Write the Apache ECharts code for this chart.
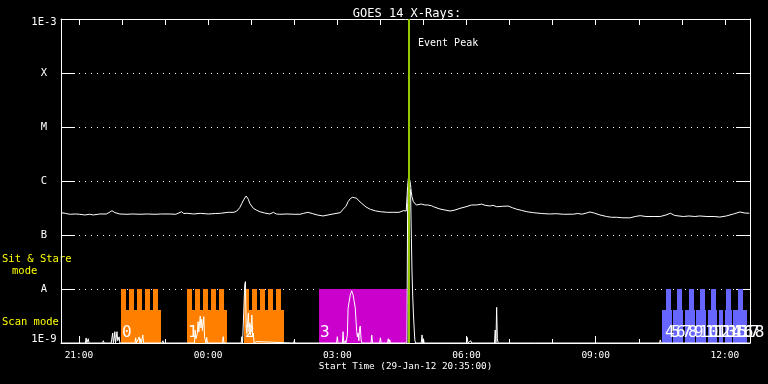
<!DOCTYPE html>
<html><head><meta charset="utf-8">
<script src="https://cdn.jsdelivr.net/npm/echarts@6/dist/echarts.min.js"></script>
<style>html,body{margin:0;padding:0;background:#000;}#c{width:768px;height:384px;}</style>
</head><body><div id="c"></div>
<script>
// ---------------- data ----------------
const titleText = 'GOES 14 X-Rays:';
const xAxisTitle = 'Start Time (29-Jan-12 20:35:00)';
const startTime = '20:35';
const endTime = '12:35';
const majorTickTimes = ['21:00','00:00','03:00','06:00','09:00','12:00'];
const hourTickTimes = ['21:00','22:00','23:00','00:00','01:00','02:00','03:00','04:00','05:00','06:00','07:00','08:00','09:00','10:00','11:00','12:00'];
const yMin = 1e-9, yMax = 1e-3;
const yTickLabels = ['1E-9','A','B','C','M','X','1E-3'];
const modeLabels = ['Sit & Stare', 'mode', 'Scan mode'];

// GOES long channel (1-8 A), W/m^2
const longSeries = [
 ['20:35',2.59e-7],['20:41',2.52e-7],['20:45',2.45e-7],['20:48',2.42e-7],['20:55',2.45e-7],['21:01',2.42e-7],
 ['21:08',2.35e-7],['21:15',2.42e-7],['21:20',2.35e-7],['21:29',2.45e-7],['21:38',2.45e-7],['21:42',2.6e-7],
 ['21:46',2.82e-7],['21:50',2.6e-7],['21:57',2.45e-7],['22:07',2.42e-7],['22:15',2.45e-7],['22:25',2.42e-7],
 ['22:35',2.45e-7],['22:46',2.42e-7],['22:55',2.45e-7],['23:07',2.45e-7],['23:15',2.42e-7],['23:23',2.70e-7],
 ['23:26',2.5e-7],['23:31',2.52e-7],['23:40',2.45e-7],['23:49',2.52e-7],['00:00',2.45e-7],['00:10',2.5e-7],
 ['00:17',2.52e-7],['00:28',2.63e-7],['00:36',2.63e-7],['00:40',2.78e-7],['00:44',3.2e-7],['00:47',3.86e-7],
 ['00:50',4.6e-7],['00:53',5.27e-7],['00:56',4.6e-7],['00:58',3.86e-7],['01:03',3.12e-7],['01:07',2.9e-7],
 ['01:12',2.70e-7],['01:19',2.55e-7],['01:26',2.45e-7],['01:31',2.63e-7],['01:35',2.45e-7],['01:40',2.42e-7],
 ['01:50',2.45e-7],['02:00',2.42e-7],['02:08',2.42e-7],['02:13',2.52e-7],['02:19',2.63e-7],['02:25',2.5e-7],
 ['02:32',2.35e-7],['02:40',2.25e-7],['02:47',2.35e-7],['02:54',2.45e-7],['03:04',2.59e-7],['03:08',2.99e-7],
 ['03:12',3.4e-7],['03:15',4.14e-7],['03:18',4.7e-7],['03:21',4.99e-7],['03:24',4.9e-7],['03:27',4.78e-7],
 ['03:30',4.3e-7],['03:34',3.86e-7],['03:40',3.3e-7],['03:46',2.99e-7],['03:53',2.8e-7],['04:00',2.70e-7],
 ['04:10',2.63e-7],['04:18',2.63e-7],['04:26',2.63e-7],['04:32',2.82e-7],['04:36',2.78e-7],['04:37',2.78e-7],
 ['04:38',8.0e-7],['04:39',1.137e-6],['04:40',1.12e-6],['04:41',1.04e-6],['04:42',8.5e-7],['04:43',6.3e-7],
 ['04:44',5.12e-7],['04:46',4.14e-7],['04:50',3.59e-7],['04:57',3.75e-7],['05:02',3.59e-7],['05:06',3.6e-7],
 ['05:11',3.49e-7],['05:14',3.34e-7],['05:23',3.03e-7],['05:30',2.9e-7],['05:37',2.78e-7],['05:44',2.9e-7],
 ['05:51',3.12e-7],['05:58',3.3e-7],['06:07',3.59e-7],['06:14',3.6e-7],['06:21',3.73e-7],['06:26',3.55e-7],
 ['06:33',3.44e-7],['06:37',3.55e-7],['06:42',3.34e-7],['06:50',3.4e-7],['06:58',3.44e-7],['07:04',3.2e-7],
 ['07:10',3.0e-7],['07:17',2.85e-7],['07:24',2.7e-7],['07:33',2.59e-7],['07:45',2.5e-7],['07:56',2.45e-7],
 ['08:05',2.48e-7],['08:15',2.42e-7],['08:29',2.43e-7],['08:35',2.5e-7],['08:41',2.43e-7],['08:47',2.55e-7],
 ['08:52',2.67e-7],['08:58',2.55e-7],['09:06',2.35e-7],['09:15',2.2e-7],['09:22',2.13e-7],['09:29',2.13e-7],
 ['09:38',2.08e-7],['09:48',2.08e-7],['09:55',2.2e-7],['10:02',2.28e-7],['10:10',2.2e-7],['10:20',2.2e-7],
 ['10:30',2.2e-7],['10:38',2.35e-7],['10:44',2.53e-7],['10:50',2.3e-7],['11:02',2.2e-7],['11:10',2.25e-7],
 ['11:18',2.2e-7],['11:25',2.25e-7],['11:35',2.2e-7],['11:45',2.2e-7],['11:53',2.15e-7],['12:02',2.25e-7],
 ['12:12',2.45e-7],['12:21',2.67e-7],['12:28',2.55e-7],['12:34',2.53e-7]
];

// GOES short channel (0.5-4 A), floored at the axis minimum
const shortSeries = [
 ['20:35',1e-9],['21:09',1e-9],['21:10',1.24e-9],['21:11',1e-9],['21:12',1e-9],['21:13',1.2e-9],['21:14',1e-9],
 ['21:33',1e-9],['21:34',1.1e-9],['21:35',1e-9],['21:45',1e-9],['21:47',1.53e-9],['21:48',1e-9],['21:49',1.2e-9],
 ['21:50',1.62e-9],['21:51',1e-9],['21:53',1.62e-9],['21:54',1.1e-9],['21:56',1.3e-9],['21:57',1e-9],
 ['22:18',1e-9],['22:19',1.25e-9],['22:20',1e-9],['22:24',1.3e-9],['22:25',1e-9],['22:26',1.2e-9],['22:27',1e-9],
 ['22:29',1.41e-9],['22:30',1e-9],['22:56',1e-9],['22:57',1.1e-9],['22:58',1e-9],['23:06',1e-9],['23:07',1.06e-9],
 ['23:08',1e-9],['23:41',1e-9],['23:42',1.74e-9],['23:43',1.2e-9],['23:45',1.5e-9],['23:46',2.48e-9],['23:47',1.6e-9],
 ['23:49',3.16e-9],['23:50',1.9e-9],['23:51',2.78e-9],['23:52',1.7e-9],['23:54',3.07e-9],['23:55',1.3e-9],
 ['23:57',1e-9],['23:58',1.27e-9],['23:59',1e-9],['00:20',1e-9],['00:21',1.31e-9],['00:22',1e-9],
 ['00:46',1e-9],['00:47',1.31e-9],['00:48',1e-9],['00:50',1e-9],['00:51',1.2e-8],['00:52',1.37e-8],['00:53',2e-9],
 ['00:54',1.5e-9],['00:56',3.6e-9],['00:57',1.6e-9],['00:58',2.35e-9],['00:59',1.4e-9],['01:01',3.3e-9],
 ['01:02',1.3e-9],['01:03',1.53e-9],['01:04',1e-9],['01:07',1.06e-9],['01:08',1e-9],['01:59',1e-9],['02:00',1.1e-9],
 ['02:01',1e-9],['02:59',1e-9],['03:00',1.31e-9],['03:01',1e-9],['03:07',1e-9],['03:08',1.62e-9],['03:09',1e-9],
 ['03:11',1.1e-9],['03:12',1e-9],['03:14',1.4e-9],['03:15',4.4e-9],['03:18',7.74e-9],['03:20',9.3e-9],
 ['03:22',7.74e-9],['03:25',4.45e-9],['03:27',1.62e-9],['03:28',1.3e-9],['03:29',1.53e-9],['03:30',1.1e-9],
 ['03:31',1.87e-9],['03:32',2.07e-9],['03:33',1.2e-9],['03:34',1e-9],['03:47',1e-9],['03:48',1.41e-9],['03:49',1e-9],
 ['03:59',1e-9],['04:00',1.25e-9],['04:01',1e-9],['04:10',1e-9],['04:11',1.2e-9],['04:12',1e-9],['04:13',1.15e-9],
 ['04:14',1e-9],['04:37',1e-9],['04:38',4e-7],['04:39',6.5e-7],['04:41',6.8e-7],['04:42',6.9e-7],['04:43',1.24e-7],
 ['04:44',2.25e-8],['04:45',7.7e-9],['04:46',3.6e-9],['04:47',1.9e-9],['04:48',1.14e-9],['04:49',1e-9],
 ['04:57',1e-9],['04:58',1.41e-9],['04:59',1e-9],['05:00',1.2e-9],['05:01',1e-9],['05:12',1e-9],['05:13',1.06e-9],
 ['05:14',1e-9],['06:00',1e-9],['06:01',1.27e-9],['06:02',1e-9],['06:06',1.1e-9],['06:07',1e-9],['06:39',1e-9],
 ['06:40',1.74e-9],['06:41',1e-9],['06:42',4.58e-9],['06:43',1.2e-9],['06:44',1e-9],['07:36',1e-9],['07:37',1.06e-9],
 ['07:38',1e-9],['10:29',1e-9],['10:30',1.14e-9],['10:31',1e-9],['12:35',1e-9]
];

// observation blocks: [start, end, top level]
const scanTop = 4.1e-9;
const stareTop = 1e-8;
const orangeBars = [
 ['21:59','22:54',scanTop],['21:59','22:06',stareTop],['22:10','22:17',stareTop],['22:21','22:28',stareTop],['22:32','22:39',stareTop],['22:43','22:50',stareTop],
 ['23:31','00:26',scanTop],['23:31','23:38',stareTop],['23:42','23:49',stareTop],['23:53','00:00',stareTop],['00:04','00:11',stareTop],['00:15','00:22',stareTop],
 ['00:50','01:46',scanTop],['00:50','00:57',stareTop],['01:01','01:08',stareTop],['01:12','01:19',stareTop],['01:23','01:30',stareTop],['01:34','01:41',stareTop]
];
const magentaBars = [['02:35','04:37',stareTop]];
const blueBars = [
 ['10:32','10:46',scanTop],['10:48','11:01',scanTop],['11:04','11:18',scanTop],['11:20','11:34',scanTop],
 ['11:36','11:49',scanTop],['11:52','11:57',scanTop],['12:00','12:10',scanTop],['12:11','12:31',scanTop],
 ['10:38','10:45',stareTop],['10:53','11:00',stareTop],['11:10','11:17',stareTop],['11:25','11:32',stareTop],
 ['11:41','11:48',stareTop],['12:02','12:09',stareTop],['12:18','12:25',stareTop]
];
const rasterLabels = ['0','1','2','3','4','5','6','7','8','9','10','11','12','13','14','15','16','17','18'];
const rasterTimes = ['21:59','23:31','00:50','02:35','10:35','10:43','10:51','10:59','11:07','11:15','11:23','11:31','11:39','11:47','11:55','12:03','12:11','12:19','12:27'];
const eventPeakTime = '04:40';
const eventLabel = 'Event Peak';

// ---------------- helpers ----------------
function hrs(s) { const p = s.split(':').map(Number); let v = p[0] + p[1] / 60; if (p[0] < 20) v += 24; return v; }
const MONO = '"DejaVu Sans Mono", "Liberation Mono", monospace';
const xMin = hrs(startTime), xMax = hrs(endTime);
const fmtHour = v => String(Math.round(v) % 24).padStart(2, '0') + ':00';

function barRender(params, api) {
  const p0 = api.coord([api.value(0), api.value(2)]);
  const p1 = api.coord([api.value(1), yMin]);
  const x0 = Math.round(p0[0]), x1 = Math.round(p1[0]);
  const y0 = Math.round(p0[1]), y1 = Math.round(p1[1]);
  return { type: 'rect', shape: { x: x0, y: y0, width: x1 - x0, height: y1 - y0 }, style: { fill: api.visual('color') } };
}
const toBars = arr => arr.map(b => [hrs(b[0]), hrs(b[1]), b[2]]);

const chart = echarts.init(document.getElementById('c'), null, { renderer: 'canvas' });
const option = {
  backgroundColor: '#000',
  animation: false,
  title: {
    text: titleText, left: 402, top: 3, textAlign: 'center',
    textStyle: { color: '#fff', fontFamily: MONO, fontSize: 12, fontWeight: 'normal' }
  },
  grid: { left: 61, right: 18, top: 19, bottom: 41, containLabel: false, outerBoundsMode: 'none' },
  xAxis: [
    {
      type: 'value', position: 'bottom', min: xMin, max: xMax,
      name: xAxisTitle, nameLocation: 'middle', nameGap: 19, nameMoveOverlap: false,
      nameTextStyle: { color: '#fff', fontFamily: MONO, fontSize: 9.3 },
      axisLine: { show: true, lineStyle: { color: '#fff', width: 1 } },
      axisTick: { show: true, inside: true, length: 7, lineStyle: { color: '#fff' }, customValues: majorTickTimes.map(hrs) },
      axisLabel: { show: true, color: '#fff', fontFamily: MONO, fontSize: 9.5, margin: 8, formatter: fmtHour, customValues: majorTickTimes.map(hrs) },
      splitLine: { show: false }
    },
    {
      type: 'value', position: 'bottom', offset: 0, min: xMin, max: xMax,
      axisLine: { show: false },
      axisTick: { show: true, inside: true, length: 4, lineStyle: { color: '#fff' }, customValues: hourTickTimes.map(hrs) },
      axisLabel: { show: false }, splitLine: { show: false }
    },
    {
      type: 'value', position: 'top', min: xMin, max: xMax,
      axisLine: { show: true, lineStyle: { color: '#fff', width: 1 } },
      axisTick: { show: true, inside: true, length: 6, lineStyle: { color: '#fff' }, customValues: hourTickTimes.map(hrs) },
      axisLabel: { show: false }, splitLine: { show: false }
    }
  ],
  yAxis: [
    {
      type: 'log', logBase: 10, position: 'left', min: yMin, max: yMax,
      axisLine: { show: true, lineStyle: { color: '#fff', width: 1 } },
      axisTick: { show: true, inside: true, length: 14, lineStyle: { color: '#fff' } },
      axisLabel: {
        show: true, color: '#fff', fontFamily: MONO, fontSize: 10.5, align: 'center', margin: 17,
        formatter: v => {
          const e = Math.round(Math.log10(v));
          const s = yTickLabels[e + 9];
          if (e === -3) return '{hi|' + s + '}';
          if (e === -9) return '{lo|' + s + '}';
          return s;
        },
        rich: {
          hi: { padding: [7, 0, 0, 0], color: '#fff', fontFamily: MONO, fontSize: 10.5 },
          lo: { padding: [0, 0, 7, 0], color: '#fff', fontFamily: MONO, fontSize: 10.5 }
        }
      },
      splitLine: { show: true, lineStyle: { color: '#fff', width: 1, type: [1, 5] } }
    },
    {
      type: 'log', logBase: 10, position: 'right', min: yMin, max: yMax,
      axisLine: { show: true, lineStyle: { color: '#fff', width: 1 } },
      axisTick: { show: true, inside: true, length: 14, lineStyle: { color: '#fff' } },
      axisLabel: { show: false }, splitLine: { show: false }
    }
  ],
  graphic: [
    { type: 'text', left: 2, top: 254, style: { text: modeLabels[0], fill: '#ffff00', font: '10.5px ' + MONO } },
    { type: 'text', left: 12, top: 266, style: { text: modeLabels[1], fill: '#ffff00', font: '10.5px ' + MONO } },
    { type: 'text', left: 2, top: 317, style: { text: modeLabels[2], fill: '#ffff00', font: '10.5px ' + MONO } }
  ],
  series: [
    { type: 'custom', name: 'scan', z: 1, renderItem: barRender, itemStyle: { color: '#ff8000' },
      encode: { x: [0, 1], y: 2 }, data: toBars(orangeBars) },
    { type: 'custom', name: 'stare', z: 1, renderItem: barRender, itemStyle: { color: '#cc00cc' },
      encode: { x: [0, 1], y: 2 }, data: toBars(magentaBars) },
    { type: 'custom', name: 'scan2', z: 1, renderItem: barRender, itemStyle: { color: '#6666ff' },
      encode: { x: [0, 1], y: 2 }, data: toBars(blueBars) },
    { type: 'line', name: 'long', z: 3, showSymbol: false, symbol: 'none',
      lineStyle: { color: '#fff', width: 1 }, data: longSeries.map(d => [hrs(d[0]), d[1]]) },
    { type: 'line', name: 'short', z: 3, showSymbol: false, symbol: 'none',
      lineStyle: { color: '#fff', width: 1 }, data: shortSeries.map(d => [hrs(d[0]), d[1]]) },
    { type: 'custom', name: 'rasterLabels', z: 4, encode: { x: 0, y: 1 },
      data: rasterTimes.map(t => [hrs(t), yMin]),
      renderItem: (params, api) => {
        const p = api.coord([api.value(0), api.value(1)]);
        return { type: 'text', x: Math.round(p[0]) + 1, y: p[1] - 10,
          style: { text: rasterLabels[params.dataIndex], fill: '#fff', font: '16px ' + MONO,
                   textAlign: 'left', textVerticalAlign: 'middle', align: 'left', verticalAlign: 'middle' } };
      } },
    { type: 'custom', name: 'event', z: 5, encode: { x: 0, y: 1 },
      data: [[hrs(eventPeakTime), yMax]],
      renderItem: (params, api) => {
        const top = api.coord([api.value(0), yMax]);
        const bot = api.coord([api.value(0), yMin]);
        const x = Math.round(top[0]);
        return { type: 'group', children: [
          { type: 'line', shape: { x1: x, y1: top[1], x2: x, y2: bot[1] }, style: { stroke: '#96c800', lineWidth: 2 } },
          { type: 'text', x: x + 9, y: top[1] + 24, style: { text: eventLabel, fill: '#fff', font: '10px ' + MONO,
            textAlign: 'left', textVerticalAlign: 'middle', align: 'left', verticalAlign: 'middle' } }
        ] };
      } }
  ]
};
chart.setOption(option);
</script>
</body></html>
